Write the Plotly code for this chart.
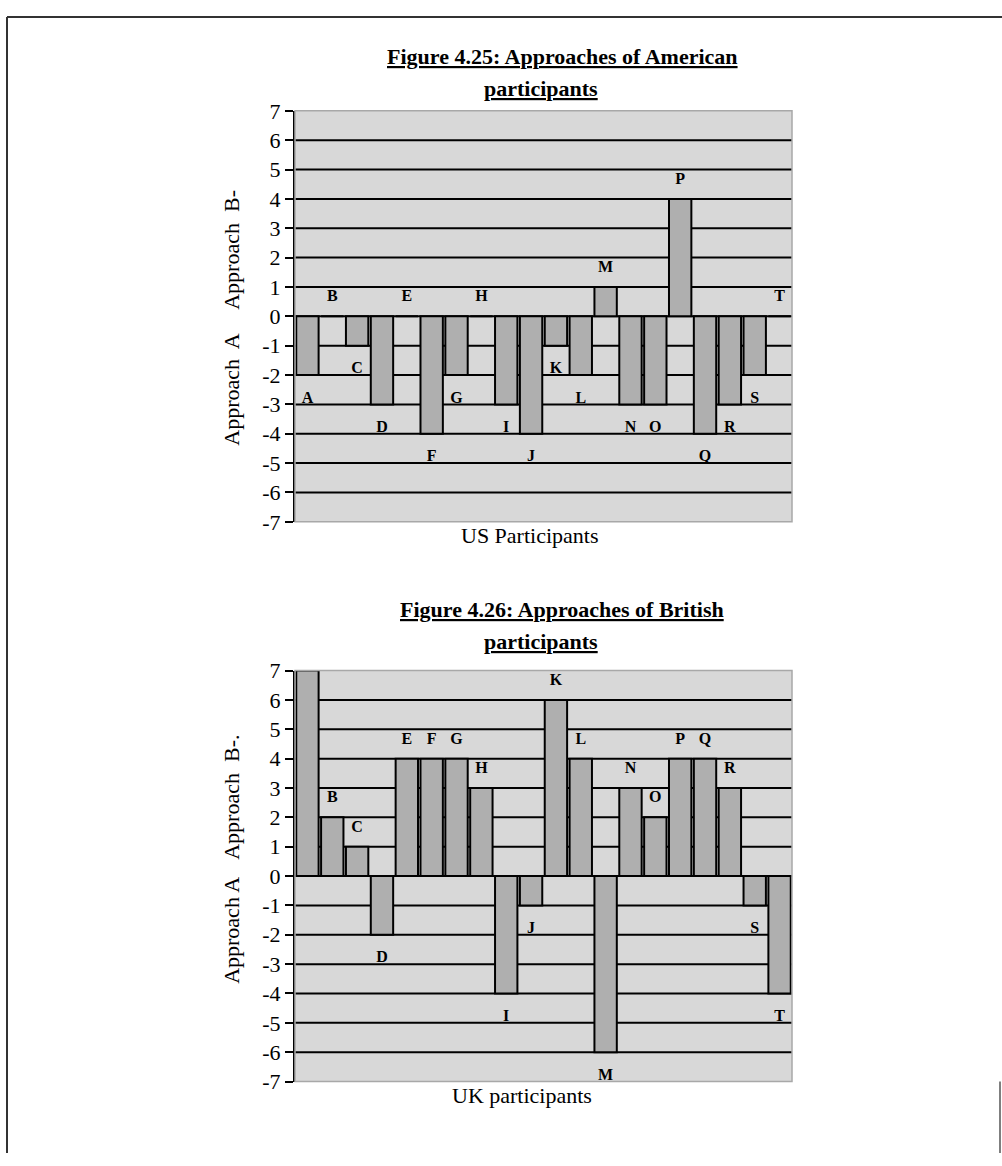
import plotly.graph_objects as go

participants = list("ABCDEFGHIJKLMNOPQRST")
us_values = [-2, 0, -1, -3, 0, -4, -2, 0, -3, -4, -1, -2, 1, -3, -3, 4, -4, -3, -2, 0]
uk_values = [7, 2, 1, -2, 4, 4, 4, 3, -4, -1, 6, 4, -6, 3, 2, 4, 4, 3, -1, -4]
y_ticks = list(range(-7, 8))
grid_levels = list(range(-6, 7))

W, H = 1002, 1166
SERIF = "Liberation Serif, Times New Roman, serif"
BAR_COLOR = "#afafaf"
BG_COLOR = "#d8d8d8"

def px_x(x):
    return x / W

def px_y(y):
    return 1 - y / H

fig = go.Figure()

panels = [
    dict(values=us_values, xa="x", ya="y"),
    dict(values=uk_values, xa="x2", ya="y2"),
]

def label_pos(v):
    return v + 0.65 if v >= 0 else v - 0.8

for p in panels:
    fig.add_trace(go.Bar(
        x=participants, y=p["values"], xaxis=p["xa"], yaxis=p["ya"],
        marker=dict(color=BAR_COLOR, line=dict(color="black", width=2)),
        hoverinfo="skip", showlegend=False,
    ))
    fig.add_trace(go.Scatter(
        x=participants, y=[label_pos(v) for v in p["values"]],
        xaxis=p["xa"], yaxis=p["ya"], mode="text", text=participants,
        textfont=dict(family=SERIF, size=16, color="black", weight="bold"),
        hoverinfo="skip", showlegend=False,
    ))

x_dom = [px_x(295), px_x(792)]
common_x = dict(domain=x_dom, range=[-0.5, 19.5], showticklabels=False,
                ticks="", showgrid=False, zeroline=False, showline=False,
                fixedrange=True)
common_y = dict(range=[-7, 7], tickvals=y_ticks, ticktext=[str(t) for t in y_ticks],
                ticks="outside", ticklen=8, tickwidth=2, tickcolor="black",
                showline=True, linecolor="black", linewidth=2,
                showgrid=False, zeroline=False,
                tickfont=dict(family=SERIF, size=22, color="black"),
                fixedrange=True)

fig.update_layout(
    width=W, height=H,
    autosize=False,
    margin=dict(l=0, r=0, t=0, b=0, pad=0),
    paper_bgcolor="white",
    plot_bgcolor=BG_COLOR,
    bargap=0.1,
    xaxis=dict(**common_x, anchor="y"),
    yaxis=dict(**common_y, domain=[px_y(521), px_y(101)], anchor="x"),
    xaxis2=dict(**common_x, anchor="y2"),
    yaxis2=dict(**common_y, domain=[px_y(1093), px_y(673)], anchor="x2"),
)

# grid lines drawn behind the bars
for xa, ya in (("x", "y"), ("x2", "y2")):
    for g in grid_levels:
        fig.add_shape(type="line", xref=f"{xa} domain", yref=ya, x0=0, x1=1, y0=g, y1=g,
                      line=dict(color="black", width=2), layer="below")
    fig.add_shape(type="rect", xref=f"{xa} domain", yref=f"{ya} domain",
                  x0=0, x1=1, y0=0, y1=1, line=dict(color="#a8a8a8", width=1.5),
                  layer="above")

def ann(text, x, y, size=22, angle=0):
    fig.add_annotation(text=text, x=px_x(x), y=px_y(y), xref="paper", yref="paper",
                       showarrow=False, textangle=angle, xanchor="center", yanchor="middle",
                       font=dict(family=SERIF, size=size, color="black"))

# titles
ann("<b><u>Figure 4.25: Approaches of American</u></b>", 562, 45, size=22)
ann("<b><u>participants</u></b>", 541, 78, size=22)
ann("<b><u>Figure 4.26: Approaches of British</u></b>", 562, 611, size=22)
ann("<b><u>participants</u></b>", 541, 643, size=22)

# axis titles
ann("Approach  B-", 232, 243, angle=-90)
ann("Approach  A", 232, 386, angle=-90)
ann("US Participants", 530, 535)
ann("Approach  B-.", 232, 803, angle=-90)
ann("Approach A", 232, 939, angle=-90)
ann("UK participants", 522, 1107)

# page frame lines
fig.add_shape(type="line", xref="paper", yref="paper", x0=px_x(7), x1=1, y0=px_y(5), y1=px_y(5),
              line=dict(color="#333333", width=2))
fig.add_shape(type="line", xref="paper", yref="paper", x0=px_x(7), x1=px_x(7), y0=px_y(5), y1=0,
              line=dict(color="#333333", width=2))
fig.add_shape(type="line", xref="paper", yref="paper", x0=px_x(1000), x1=px_x(1000), y0=px_y(1093), y1=0,
              line=dict(color="#555555", width=1.5))

fig.write_html(
    "out.html",
    config={"displayModeBar": False, "responsive": False},
    post_script=(
        "document.documentElement.style.margin='0';"
        "document.body.style.margin='0';document.body.style.padding='0';"
        "var gd=document.getElementById('{plot_id}');"
        "gd.style.position='fixed';gd.style.top='0px';gd.style.left='0px';"
    ),
)
